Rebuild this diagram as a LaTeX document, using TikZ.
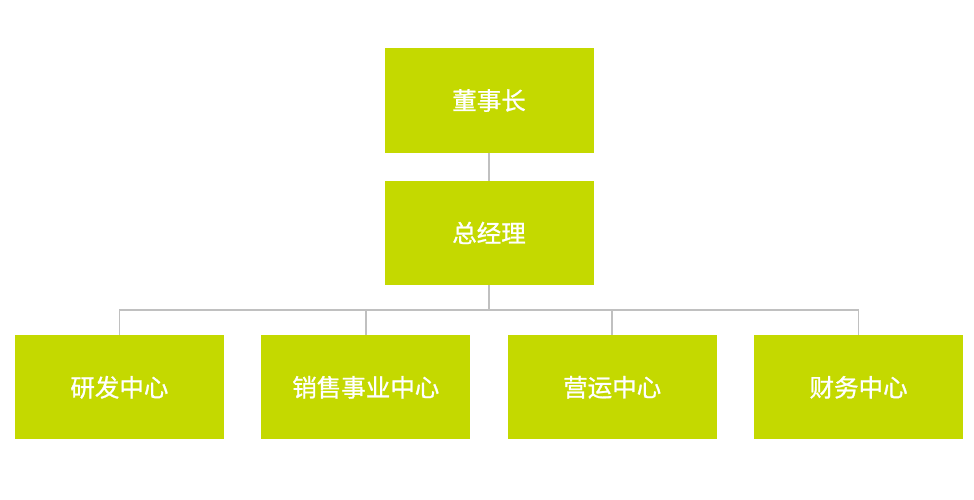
\documentclass[tikz,border=0pt]{standalone}
\usepackage{fontspec}
\newfontfamily\cjk[FakeBold=1]{Noto Sans CJK SC}
\usetikzlibrary{positioning}
\definecolor{boxgreen}{RGB}{196,217,0}
\definecolor{linegray}{RGB}{192,192,192}
\tikzset{
    orgbox/.style={fill=boxgreen,text=white,minimum width=209pt,minimum height=104pt,inner sep=0pt,
        font=\cjk\fontsize{24.5}{24.5}\selectfont},
    orgline/.style={draw=linegray,line width=1.5pt}
}
\begin{document}
\begin{tikzpicture}
    \useasboundingbox (0,0) rectangle (974pt,-500pt);
    \node[orgbox] (chair) at (489pt,-100.5pt) {董事长};
    \node[orgbox,below=28pt of chair] (gm) {总经理};
    % bottom row, split round the middle of gm
    \node[orgbox,below left=50pt and 18.5pt of gm.south] (sales) {销售事业中心};
    \node[orgbox,below right=50pt and 18.5pt of gm.south] (ops) {营运中心};
    \node[orgbox,left=37pt of sales] (rnd) {研发中心};
    \node[orgbox,right=37pt of ops] (finance) {财务中心};
    \draw[orgline] (chair) -- (gm);
    \draw[orgline] (gm.south) -- ++(0,-25pt) coordinate (bus);
    \foreach \unit in {rnd,sales,ops,finance}
        \draw[orgline] (bus) -| (\unit.north);
\end{tikzpicture}
\end{document}
